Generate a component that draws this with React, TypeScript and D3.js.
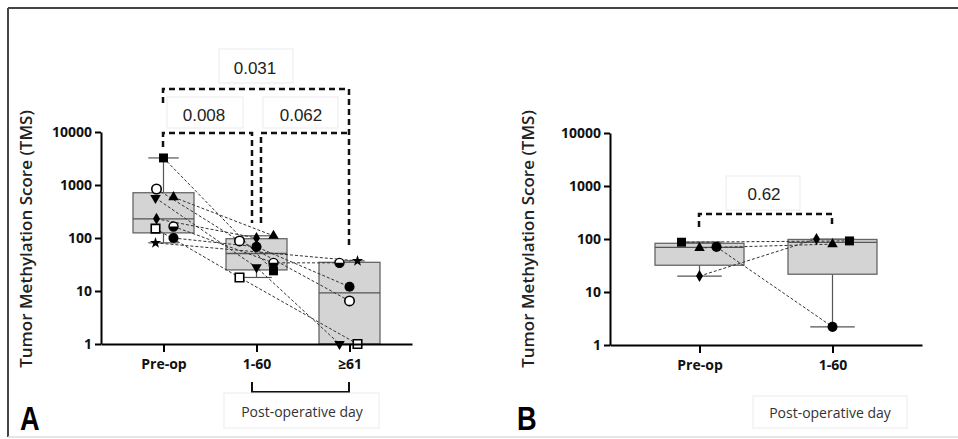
import React, { useEffect, useRef } from "react";
import * as d3 from "d3";

// categories / tick labels
const categoriesA = ["Pre-op", "1-60", "≥61"];
const categoriesB = ["Pre-op", "1-60"];
const yTicks = [1, 10, 100, 1000, 10000];

// one marker per patient, values per time point (null = no sample)
const markersA = ["filledSquare", "openCircle", "downTriangle", "upTriangle", "diamond", "openSquare", "halfCircle", "filledCircle", "star"];
const preopA = [3240, 840, 570, 590, 230, 150, 165, 100, 81];
const earlyA = [24, 88, 28, 110, 100, 18, 34, 68, null];
const lateA = [null, 6.5, 1, null, null, 1, 34, 12, 37];

const markersB = ["filledSquare", "upTriangle", "filledCircle", "diamond"];
const preopB = [87, 68, 71, 20];
const earlyB = [92, 80, 2.2, 100];

const pValuesA = ["0.008", "0.062", "0.031"];
const pValuesB = ["0.62"];
const xTitle = "Post-operative day";
const yTitle = "Tumor Methylation Score (TMS)";

// horizontal nudges of the markers (px), same order as markers
const jitterA = [
  [0, -7, -8, 10, -7, -8, 10, 10, -8],
  [17, -17, 0, 17, 0, -17, 17, 0, 0],
  [0, 0, -10, 0, 0, 8, -10, 0, 8],
];
const jitterB = [
  [-18, 0, 17, 0],
  [17, 0, 0, -16],
];

// quartiles the (n+1)p way
const quant = (s: number[], p: number) => {
  const n = s.length;
  const pos = (n + 1) * p;
  if (pos <= 1) return s[0];
  if (pos >= n) return s[n - 1];
  const lo = Math.floor(pos);
  return s[lo - 1] + (pos - lo) * (s[lo] - s[lo - 1]);
};

const Marker = ({ kind, x, y }: { kind: string; x: number; y: number }) => {
  const t = `translate(${x},${y})`;
  const sym = (type: any, size: number) => d3.symbol().type(type).size(size)() as string;
  switch (kind) {
    case "filledSquare":
      return <path transform={t} d={sym(d3.symbolSquare, 80)} fill="#000" />;
    case "openSquare":
      return <path transform={t} d={sym(d3.symbolSquare, 72)} fill="#fff" stroke="#000" strokeWidth={1.6} />;
    case "openCircle":
      return <path transform={t} d={sym(d3.symbolCircle, 70)} fill="#fff" stroke="#000" strokeWidth={1.6} />;
    case "filledCircle":
      return <path transform={t} d={sym(d3.symbolCircle, 80)} fill="#000" />;
    case "upTriangle":
      return <path transform={t} d={sym(d3.symbolTriangle, 48)} fill="#000" />;
    case "downTriangle":
      return <path transform={`${t} rotate(180)`} d={sym(d3.symbolTriangle, 48)} fill="#000" />;
    case "diamond":
      return <path transform={t} d={sym(d3.symbolDiamond, 42)} fill="#000" />;
    case "star":
      return <path transform={t} d={sym(d3.symbolStar, 40)} fill="#000" />;
    case "halfCircle":
      return (
        <g transform={t}>
          <circle r={4.5} fill="#fff" stroke="#000" strokeWidth={1.4} />
          <path d="M-4.5,0 A4.5,4.5 0 0 0 4.5,0 Z" fill="#000" />
        </g>
      );
    default:
      return null;
  }
};

type PanelProps = {
  categories: string[];
  markers: string[];
  series: (number | null)[][];
  jitter: number[][];
  axisX: [number, number];
  padding: number;
  yRange: [number, number];
  boxWidth: number;
  titleX: number;
};

const Panel = ({ categories, markers, series, jitter, axisX, padding, yRange, boxWidth, titleX }: PanelProps) => {
  const yRef = useRef<SVGGElement>(null);
  const xRef = useRef<SVGGElement>(null);
  const x = d3.scalePoint<string>().domain(categories).range(axisX).padding(padding);
  const y = d3.scaleLog().domain([1, 10000]).range(yRange);

  useEffect(() => {
    const ya = d3.axisLeft(y).tickValues(yTicks).tickFormat(d3.format("d")).tickSize(6).tickSizeOuter(0).tickPadding(3);
    const gy = d3.select(yRef.current!).attr("transform", `translate(${axisX[0]},0)`).call(ya);
    gy.selectAll("path, line").attr("stroke", "#000").attr("stroke-width", 2);
    gy.selectAll("text").attr("font-family", "'Open Sans', sans-serif").attr("font-size", 14).attr("font-weight", 700).attr("fill", "#111");
    const xa = d3.axisBottom(x).tickSize(8).tickSizeOuter(0).tickPadding(7);
    const gx = d3.select(xRef.current!).attr("transform", `translate(0,${yRange[0]})`).call(xa);
    gx.selectAll("path, line").attr("stroke", "#000").attr("stroke-width", 2);
    gx.selectAll("text").attr("font-family", "'Open Sans', sans-serif").attr("font-size", 14).attr("font-weight", 700).attr("fill", "#111");
  }, []);

  const line = d3.line<[number, number]>();
  const cap = boxWidth / 2;

  return (
    <g>
      {/* boxes */}
      {categories.map((c, k) => {
        const s = (series[k].filter((v) => v != null) as number[]).sort((a, b) => a - b);
        const cx = x(c)!;
        const q1 = quant(s, 0.25), med = quant(s, 0.5), q3 = quant(s, 0.75);
        const lo = s[0], hi = s[s.length - 1];
        return (
          <g key={c}>
            <line x1={cx} x2={cx} y1={y(lo)} y2={y(hi)} stroke="#555" strokeWidth={1.2} />
            <line x1={cx - cap / 2} x2={cx + cap / 2} y1={y(lo)} y2={y(lo)} stroke="#555" strokeWidth={1.2} />
            <line x1={cx - cap / 2} x2={cx + cap / 2} y1={y(hi)} y2={y(hi)} stroke="#555" strokeWidth={1.2} />
            <rect x={cx - boxWidth / 2} width={boxWidth} y={y(q3)} height={y(q1) - y(q3)} fill="#d4d4d4" stroke="#666" strokeWidth={1.3} />
            <line x1={cx - boxWidth / 2} x2={cx + boxWidth / 2} y1={y(med)} y2={y(med)} stroke="#555" strokeWidth={1.3} />
          </g>
        );
      })}
      {/* patient trajectories */}
      {markers.map((m, i) => {
        const pts = categories
          .map((c, k) => (series[k][i] != null ? ([x(c)! + jitter[k][i], y(series[k][i] as number)] as [number, number]) : null))
          .filter((p) => p) as [number, number][];
        return <path key={m} d={line(pts) as string} fill="none" stroke="#333" strokeWidth={1} strokeDasharray="3,2" />;
      })}
      {markers.map((m, i) =>
        categories.map((c, k) =>
          series[k][i] != null ? <Marker key={m + c} kind={m} x={x(c)! + jitter[k][i]} y={y(series[k][i] as number)} /> : null
        )
      )}
      <g ref={yRef} />
      <g ref={xRef} />
      <text
        transform={`translate(${titleX},239) rotate(-90)`}
        textAnchor="middle"
        fontFamily="'Open Sans', sans-serif"
        fontSize={17}
        fontWeight={600}
        fill="#222"
      >
        {yTitle}
      </text>
    </g>
  );
};

const PBox = ({ x, y, w, h, label, cx, by }: any) => (
  <g>
    <rect x={x} y={y} width={w} height={h} fill="#fff" stroke="#ebebeb" strokeWidth={1} />
    <text x={cx} y={by} textAnchor="middle" fontFamily="'Liberation Sans', Arial, sans-serif" fontSize={17} fill="#222">
      {label}
    </text>
  </g>
);

const dash = { stroke: "#111", strokeWidth: 2.5, strokeDasharray: "6,4", fill: "none" };

export default function App() {
  return (
    <svg width={958} height={439} style={{ position: "absolute", left: 0, top: 0, background: "#fff" }}>
      {/* frame */}
      <line x1={8} x2={958} y1={8} y2={8} stroke="#444" strokeWidth={2} />
      <line x1={8} x2={8} y1={8} y2={437} stroke="#444" strokeWidth={2} />
      <line x1={8} x2={958} y1={437} y2={437} stroke="#ddd" strokeWidth={1.5} />

      {/* panel A */}
      <PBox x={219} y={49} w={74} h={34} label={pValuesA[2]} cx={255} by={74} />
      <PBox x={167} y={97} w={76} h={31} label={pValuesA[0]} cx={204} by={121} />
      <PBox x={263} y={97} w={75} h={31} label={pValuesA[1]} cx={301} by={121} />
      <path d="M163,103 V89 H349 V245" {...dash} />
      <path d="M163,147 V133 H252 V223" {...dash} />
      <path d="M261,223 V133 H349" {...dash} />
      <Panel
        categories={categoriesA}
        markers={markersA}
        series={[preopA, earlyA, lateA]}
        jitter={jitterA}
        axisX={[101, 412]}
        padding={0.672}
        yRange={[344, 132]}
        boxWidth={61}
        titleX={32}
      />
      <path d="M252,382 V392 H349 V382" fill="none" stroke="#111" strokeWidth={2} />
      <rect x={224} y={393} width={155} height={35} fill="#fff" stroke="#ececec" />
      <text x={302} y={417} textAnchor="middle" fontFamily="'Open Sans', sans-serif" fontSize={14} fill="#333">
        {xTitle}
      </text>
      <text transform="translate(20,430) scale(0.8,1)" fontFamily="'Liberation Sans', Arial, sans-serif" fontWeight={700} fontSize={34} fill="#000">
        A
      </text>

      {/* panel B */}
      <PBox x={726} y={176} w={74} h={34} label={pValuesB[0]} cx={764} by={200} />
      <path d="M699,227 V214 H832 V227" {...dash} />
      <Panel
        categories={categoriesB}
        markers={markersB}
        series={[preopB, earlyB]}
        jitter={jitterB}
        axisX={[610, 922]}
        padding={0.673}
        yRange={[345, 133]}
        boxWidth={89}
        titleX={534}
      />
      <rect x={753} y={396} width={154} height={32} fill="#fff" stroke="#ececec" />
      <text x={830} y={418} textAnchor="middle" fontFamily="'Open Sans', sans-serif" fontSize={14} fill="#333">
        {xTitle}
      </text>
      <text transform="translate(517,430) scale(0.8,1)" fontFamily="'Liberation Sans', Arial, sans-serif" fontWeight={700} fontSize={34} fill="#000">
        B
      </text>
    </svg>
  );
}
